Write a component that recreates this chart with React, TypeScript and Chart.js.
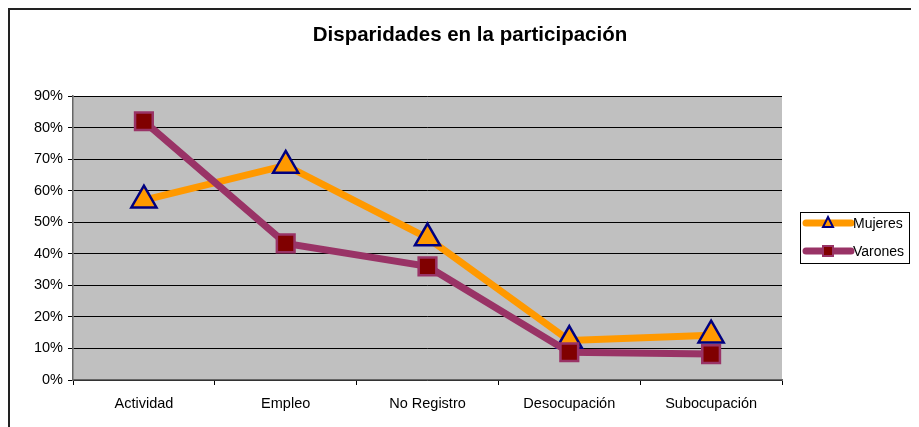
import React, { useEffect, useRef } from "react";
import { Chart, registerables } from "chart.js";

Chart.register(...registerables);

const categories = ["Actividad", "Empleo", "No Registro", "Desocupación", "Subocupación"];
const mujeres = [57, 68, 45, 12.5, 14.2];
const varones = [82, 43.3, 36, 8.8, 8.2];
const yTicks = [0, 10, 20, 30, 40, 50, 60, 70, 80, 90];
const titleText = "Disparidades en la participación";
const seriesNames = ["Mujeres", "Varones"];

const FONT = "Arial, 'Liberation Sans', sans-serif";

const decorPlugin = {
  id: "decor",
  beforeDraw(chart: any) {
    const { ctx, chartArea } = chart;
    ctx.save();
    ctx.fillStyle = "#C0C0C0";
    ctx.fillRect(chartArea.left, chartArea.top, chartArea.right - chartArea.left, chartArea.bottom - chartArea.top);
    ctx.restore();
  },
  afterDraw(chart: any) {
    const { ctx, width } = chart;
    ctx.save();
    // outer frame
    ctx.strokeStyle = "#222";
    ctx.lineWidth = 2;
    ctx.strokeRect(1, 1, width + 20, chart.height + 20);
    // title
    ctx.fillStyle = "#000";
    ctx.font = "bold 20.5px " + FONT;
    ctx.textAlign = "center";
    ctx.textBaseline = "middle";
    ctx.fillText(titleText, 462, 27.5);
    // legend
    const bx = 792, by = 204, bw = 109, bh = 51;
    ctx.fillStyle = "#fff";
    ctx.fillRect(bx, by, bw, bh);
    ctx.strokeStyle = "#000";
    ctx.lineWidth = 1;
    ctx.strokeRect(bx + 0.5, by + 0.5, bw, bh);
    const ys = [by + 11, by + 39];
    chart.data.datasets.forEach((ds: any, i: number) => {
      const y = ys[i];
      const cx = bx + 28;
      ctx.strokeStyle = ds.borderColor;
      ctx.lineWidth = 7;
      ctx.lineCap = "round";
      ctx.beginPath();
      ctx.moveTo(bx + 6, y);
      ctx.lineTo(bx + 51, y);
      ctx.stroke();
      ctx.lineCap = "butt";
      if (ds.pointStyle === "triangle") {
        ctx.fillStyle = ds.pointBackgroundColor;
        ctx.strokeStyle = ds.pointBorderColor;
        ctx.lineWidth = 2;
        ctx.beginPath();
        ctx.moveTo(cx, y - 6);
        ctx.lineTo(cx + 5, y + 4);
        ctx.lineTo(cx - 5, y + 4);
        ctx.closePath();
        ctx.fill();
        ctx.stroke();
      } else {
        ctx.fillStyle = ds.pointBorderColor;
        ctx.fillRect(cx - 6, y - 6, 12, 12);
        ctx.fillStyle = ds.pointBackgroundColor;
        ctx.fillRect(cx - 4, y - 4, 8, 8);
      }
      ctx.fillStyle = "#000";
      ctx.font = "14px " + FONT;
      ctx.textAlign = "left";
      ctx.textBaseline = "middle";
      ctx.fillText(ds.label, bx + 53, y + 1);
    });
    ctx.restore();
  },
};

export default function App() {
  const ref = useRef<HTMLCanvasElement>(null);
  useEffect(() => {
    document.documentElement.style.overflow = "hidden";
    document.body.style.overflow = "hidden";
    if (!ref.current) return;
    const chart = new Chart(ref.current, {
      type: "line",
      data: {
        labels: categories,
        datasets: [
          {
            label: seriesNames[0],
            data: mujeres,
            borderColor: "#FF9900",
            borderWidth: 7,
            pointStyle: "triangle",
            pointRadius: 14.5,
            pointBackgroundColor: "#FF9900",
            pointBorderColor: "#000080",
            pointBorderWidth: 2.5,
            tension: 0,
            order: 2,
          },
          {
            label: seriesNames[1],
            data: varones,
            borderColor: "#993366",
            borderWidth: 7,
            pointStyle: "rect",
            pointRadius: 12.5,
            pointBackgroundColor: "#800000",
            pointBorderColor: "#993366",
            pointBorderWidth: 2.5,
            tension: 0,
            order: 1,
          },
        ],
      },
      options: {
        animation: false,
        responsive: false,
        events: [],
        layout: { padding: { left: 0, right: 137, top: 88, bottom: 0 } },
        plugins: { legend: { display: false }, title: { display: false }, tooltip: { enabled: false } },
        scales: {
          x: {
            offset: true,
            grid: { display: true, drawOnChartArea: false, drawTicks: true, tickLength: 5, offset: true, color: "#000" },
            border: { display: true, color: "#666", width: 1.5 },
            ticks: { color: "#000", font: { family: FONT, size: 14.5 }, padding: 10, maxRotation: 0 },
            afterFit: (s: any) => { s.height = 47; },
          },
          y: {
            min: 0,
            max: 90,
            afterBuildTicks: (s: any) => { s.ticks = yTicks.map((v) => ({ value: v })); },
            grid: { color: "#000", lineWidth: 1, tickLength: 5, drawTicks: true },
            border: { display: true, color: "#666", width: 1.5 },
            ticks: { color: "#000", font: { family: FONT, size: 14.5 }, padding: 5, callback: (v: any) => v + "%" },
            afterFit: (s: any) => { s.width = 65; },
          },
        },
      },
      plugins: [decorPlugin],
    });
    return () => chart.destroy();
  }, []);
  return (
    <div style={{ width: 911, height: 419, position: "relative", overflow: "hidden" }}>
      <canvas ref={ref} width={911} height={419} style={{ display: "block" }} />
    </div>
  );
}
